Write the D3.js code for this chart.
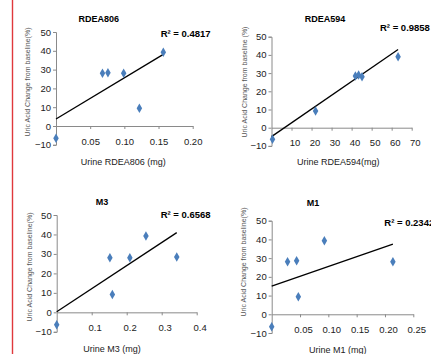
<!DOCTYPE html>
<html>
<head>
<meta charset="utf-8">
<script src="https://cdn.jsdelivr.net/npm/d3@7"></script>
<style>
  body { margin: 0; background: #fff; }
  svg { display: block; font-family: "Liberation Sans", Arial, sans-serif; }
</style>
</head>
<body>
<div id="chart"></div>
<script>
// data
var titles = ["RDEA806", "RDEA594", "M3", "M1"];
var xTitles = ["Urine RDEA806 (mg)", "Urine RDEA594(mg)", "Urine M3 (mg)", "Urine M1 (mg)"];
var yTitles = ["Uric Acid Change from baseline(%)", "Uric Acid Change from baseline (%)",
               "Uric Acid Change from baseline(%)", "Uric Acid Change from baseline(%)"];
var r2Labels = ["R\u00b2 = 0.4817", "R\u00b2 = 0.9858", "R\u00b2 = 0.6568", "R\u00b2 = 0.2342"];

var rdea806X = [0, 0.068, 0.076, 0.099, 0.122, 0.157];
var rdea806Y = [-6.5, 28, 28.3, 28, 9.4, 39.2];
var rdea594X = [0.5, 22, 41.9, 43.5, 45.2, 63.2];
var rdea594Y = [-6.4, 9.2, 28.4, 28.9, 28, 39];
var m3X = [0, 0.152, 0.159, 0.209, 0.255, 0.343];
var m3Y = [-6.4, 28, 9.2, 28, 39.2, 28.4];
var m1X = [0, 0.028, 0.044, 0.047, 0.093, 0.214];
var m1Y = [-6.6, 28.1, 28.6, 9.4, 39.3, 28.1];

// linear trend lines (intercept, slope)
var trendIntercept = [3.7, -4.9, 0.3, 15];
var trendSlope = [219, 0.758, 118.5, 105];

var xMax = [0.20, 70, 0.4, 0.25];
var xTickVals = [[0.05, 0.10, 0.15, 0.20], [10, 20, 30, 40, 50, 60, 70],
                 [0.1, 0.2, 0.3, 0.4], [0.05, 0.10, 0.15, 0.20, 0.25]];
var xTickFmt = [".2f", "d", ".1f", ".2f"];
var yTickVals = [-10, 0, 10, 20, 30, 40, 50];

var xs = [rdea806X, rdea594X, m3X, m1X];
var ys = [rdea806Y, rdea594Y, m3Y, m1Y];

// where each panel sits
var panels = [
  {x0: 56, x1: 192.7, yTop: 32, yBot: 144.8, title: [98.7, 22], r2: [160.7, 37], xt: [123.3, 165], yt: [28, 82], dx: 0},
  {x0: 271.5, x1: 411.7, yTop: 36.7, yBot: 145.9, title: [325, 22], r2: [380, 31], xt: [338.3, 165], yt: [244.3, 82], dx: 3},
  {x0: 56.7, x1: 196.7, yTop: 215, yBot: 331.8, title: [102, 205], r2: [160.7, 217.5], xt: [112, 352], yt: [29.3, 267], dx: 3},
  {x0: 271.7, x1: 413.3, yTop: 220.7, yBot: 333, title: [313, 206], r2: [384.3, 225.5], xt: [337.7, 353], yt: [243.3, 262], dx: 3}
];

var svg = d3.select("#chart")
    .append("svg")
    .attr("width", 431)
    .attr("height", 354);

// red margin line on the left
svg.append("line")
    .attr("x1", 12.5).attr("x2", 12.5)
    .attr("y1", 0).attr("y2", 354)
    .style("stroke", "#e0393c")
    .style("stroke-width", 1.4);

panels.forEach(function(p, i) {
  var x = d3.scaleLinear().domain([0, xMax[i]]).range([p.x0, p.x1]);
  var y = d3.scaleLinear().domain([-10, 50]).range([p.yBot, p.yTop]);
  var g = svg.append("g");

  // y axis
  var yAxis = d3.axisLeft(y).tickValues(yTickVals).tickSize(3).tickPadding(2);
  var ya = g.append("g").attr("transform", "translate(" + p.x0 + ",0)").call(yAxis);
  ya.select(".domain").style("stroke", "#8a8a8a");
  ya.selectAll(".tick line").style("stroke", "#8a8a8a");
  ya.selectAll("text").style("font-size", "9.5px").style("fill", "#222");

  // x axis sits on y = 0
  var xAxis = d3.axisBottom(x).tickValues(xTickVals[i]).tickFormat(d3.format(xTickFmt[i]))
      .tickSize(3).tickSizeOuter(0);
  var xa = g.append("g").attr("transform", "translate(0," + y(0) + ")").call(xAxis);
  xa.select(".domain").style("stroke", "#8a8a8a");
  xa.selectAll(".tick line").style("stroke", "#8a8a8a");
  xa.selectAll("text")
      .attr("y", 12)
      .attr("dx", p.dx)
      .style("font-size", "9.5px").style("fill", "#222");

  // trend line
  var maxX = d3.max(xs[i]);
  g.append("line")
      .attr("x1", x(0)).attr("y1", y(trendIntercept[i]))
      .attr("x2", x(maxX)).attr("y2", y(trendIntercept[i] + trendSlope[i] * maxX))
      .style("stroke", "#000")
      .style("stroke-width", 1.3);

  // points
  var pts = xs[i].map(function(v, k) { return [v, ys[i][k]]; });
  g.selectAll("path.pt")
      .data(pts)
      .enter()
      .append("path")
      .attr("class", "pt")
      .attr("d", d3.symbol().type(d3.symbolDiamond).size(26))
      .attr("transform", function(d) { return "translate(" + x(d[0]) + "," + y(d[1]) + ")"; })
      .style("fill", "#4a7ebb");

  // titles
  g.append("text")
      .attr("x", p.title[0]).attr("y", p.title[1])
      .attr("text-anchor", "middle")
      .style("font-size", "9px").style("font-weight", "bold")
      .text(titles[i]);

  g.append("text")
      .attr("x", p.r2[0]).attr("y", p.r2[1])
      .style("font-size", "9.5px").style("font-weight", "bold")
      .text(r2Labels[i]);

  g.append("text")
      .attr("x", p.xt[0]).attr("y", p.xt[1])
      .attr("text-anchor", "middle")
      .style("font-size", "9px").style("fill", "#222")
      .text(xTitles[i]);

  g.append("text")
      .attr("transform", "translate(" + p.yt[0] + "," + p.yt[1] + ") rotate(-90)")
      .attr("text-anchor", "middle")
      .attr("dy", "0.35em")
      .style("font-size", "7px").style("fill", "#555")
      .text(yTitles[i]);
});
</script>
</body>
</html>
